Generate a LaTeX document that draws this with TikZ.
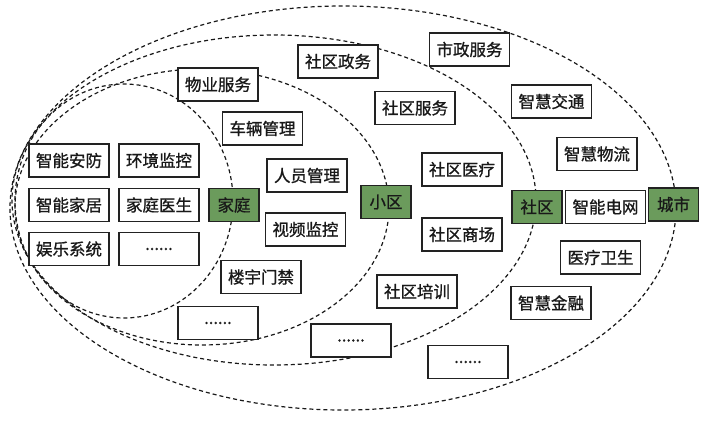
\documentclass[tikz,border=0pt]{standalone}
\usepackage{fontspec}
\newfontfamily\cjk[FakeBold=1]{Noto Sans CJK SC}
\definecolor{gfill}{HTML}{6B9B5C}
\definecolor{edge}{HTML}{222222}
\begin{document}
\begin{tikzpicture}[x=1pt,y=-1pt,
  box/.style={draw=edge, line width=1.3pt, fill=white, minimum width=80pt, minimum height=33pt, inner sep=0pt, font=\cjk\fontsize{16.5}{16.5}\selectfont, text=black!90},
  gbox/.style={box, fill=gfill, minimum width=50pt},
  ring/.style={draw=black!90, dash pattern=on 4pt off 3pt, line width=1.2pt}]
\useasboundingbox (0,0) rectangle (714,420);
% nested dashed ellipses
\draw[ring] (124,201) ellipse [x radius=109pt, y radius=117pt];
\draw[ring] (202,207) ellipse [x radius=187pt, y radius=138pt];
\draw[ring] (274,200) ellipse [x radius=262pt, y radius=165pt];
\draw[ring] (343,208) ellipse [x radius=333pt, y radius=202pt];
% home level
\node[box] (anfang) at (69,160.5) {智能安防};
\node[box] (huanjing) at (159,160.5) {环境监控};
\node[box] (jiaju) at (69,205) {智能家居};
\node[box] (yisheng) at (159,205) {家庭医生};
\node[box] (yule) at (69,249) {娱乐系统};
\node[box] (jdots) at (159,249) {......};
\node[gbox] (jiating) at (234,205) {家庭};
% residential level
\node[box] (wuye) at (218,84.5) {物业服务};
\node[box] (cheliang) at (262.5,128.5) {车辆管理};
\node[box] (renyuan) at (307,175.5) {人员管理};
\node[box] (shipin) at (305.5,229.5) {视频监控};
\node[box] (louyu) at (261,277) {楼宇门禁};
\node[box] (xdots) at (218,323) {......};
\node[gbox] (xiaoqu) at (386,202) {小区};
% community level
\node[box] (zhengwu) at (338,61.5) {社区政务};
\node[box] (fuwu) at (415,108) {社区服务};
\node[box] (yiliao) at (462,169.5) {社区医疗};
\node[box] (shangchang) at (462,234.5) {社区商场};
\node[box] (peixun) at (417,291.5) {社区培训};
\node[box] (sdots) at (351,340.5) {......};
\node[gbox] (shequ) at (537,207) {社区};
% city level
\node[box] (shizheng) at (469.5,49.5) {市政服务};
\node[box] (jiaotong) at (551.5,101.5) {智慧交通};
\node[box] (wuliu) at (597,154) {智慧物流};
\node[box] (dianwang) at (605.5,207) {智能电网};
\node[box] (weisheng) at (600.5,257.5) {医疗卫生};
\node[box] (jinrong) at (551,303) {智慧金融};
\node[box] (cdots) at (468,362) {......};
\node[gbox] (chengshi) at (673.5,204.5) {城市};
\end{tikzpicture}
\end{document}
